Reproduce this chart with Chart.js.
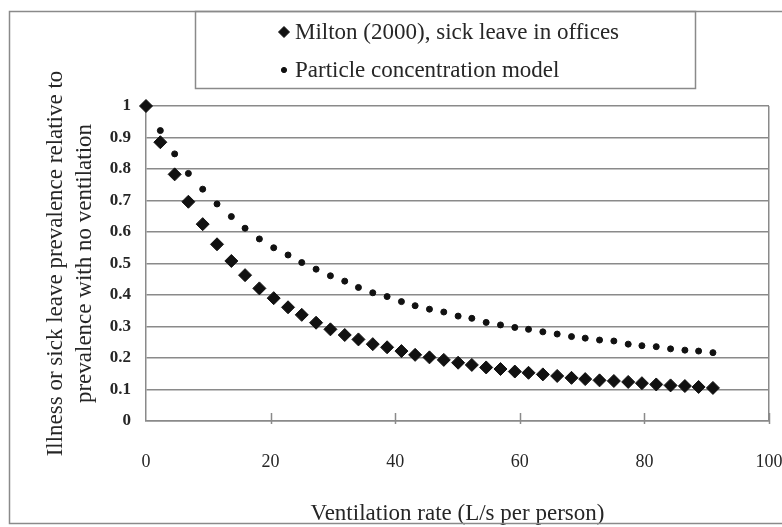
<!DOCTYPE html>
<html>
<head>
<meta charset="utf-8">
<title>Ventilation rate and illness prevalence</title>
<script src="https://cdn.jsdelivr.net/npm/chart.js@4.4.1/dist/chart.umd.min.js"></script>
<style>
  html, body { margin: 0; padding: 0; background: #ffffff; overflow: hidden; }
  #wrap { position: relative; width: 782px; height: 527px; }
</style>
</head>
<body>
<div id="wrap"><canvas id="chart" width="782" height="527"></canvas></div>
<script>
// Ventilation rate (L/s per person) at which both curves are evaluated
const ventilationRate = [0, 2.3, 4.6, 6.8, 9.1, 11.4, 13.7, 15.9, 18.2, 20.5,
  22.8, 25.0, 27.3, 29.6, 31.9, 34.1, 36.4, 38.7, 41.0, 43.2,
  45.5, 47.8, 50.1, 52.3, 54.6, 56.9, 59.2, 61.4, 63.7, 66.0,
  68.3, 70.5, 72.8, 75.1, 77.4, 79.6, 81.9, 84.2, 86.5, 88.7, 91.0];

// Milton (2000), sick leave in offices, relative to no ventilation
const miltonSickLeave = [1.000, 0.885, 0.783, 0.696, 0.625, 0.561, 0.508, 0.463, 0.421, 0.390,
  0.361, 0.337, 0.312, 0.291, 0.273, 0.259, 0.244, 0.234, 0.222, 0.210,
  0.202, 0.194, 0.185, 0.178, 0.170, 0.165, 0.157, 0.153, 0.148, 0.143,
  0.137, 0.133, 0.129, 0.127, 0.124, 0.120, 0.116, 0.113, 0.111, 0.108, 0.105];

// Particle concentration model, relative to no ventilation
const particleModel = [1.000, 0.922, 0.848, 0.786, 0.736, 0.689, 0.649, 0.612, 0.578, 0.550,
  0.527, 0.503, 0.482, 0.461, 0.444, 0.424, 0.407, 0.395, 0.379, 0.366,
  0.355, 0.346, 0.333, 0.326, 0.313, 0.305, 0.297, 0.291, 0.283, 0.276,
  0.268, 0.263, 0.257, 0.254, 0.244, 0.239, 0.236, 0.229, 0.225, 0.222, 0.217];

const seriesNames = ['Milton (2000), sick leave in offices', 'Particle concentration model'];

const xTicks = [0, 20, 40, 60, 80, 100];
const yTicks = [0, 0.1, 0.2, 0.3, 0.4, 0.5, 0.6, 0.7, 0.8, 0.9, 1];
const xTickLabels = ['0', '20', '40', '60', '80', '100'];
const yTickLabels = ['0', '0.1', '0.2', '0.3', '0.4', '0.5', '0.6', '0.7', '0.8', '0.9', '1'];

const xAxisTitle = 'Ventilation rate (L/s per person)';
const yAxisTitle = ['Illness or sick leave prevalence relative to', 'prevalence with no ventilation'];

const SERIF = '"Liberation Serif", "Times New Roman", "DejaVu Serif", serif';
const TEXT = '#262626';
const LINE = '#8a8a8a';

const toPoints = (xs, ys) => xs.map((x, i) => ({ x: x, y: ys[i] }));

// Outer frame of the figure
const frame = {
  id: 'frame',
  afterDraw(chart) {
    const ctx = chart.ctx;
    ctx.save();
    ctx.strokeStyle = LINE;
    ctx.lineWidth = 1.5;
    ctx.strokeRect(9.5, 11.5, 800, 512);
    ctx.restore();
  }
};

// Short tick marks crossing the horizontal axis
const crossTicks = {
  id: 'crossTicks',
  afterDraw(chart) {
    const sx = chart.scales.x;
    const bottom = chart.chartArea.bottom;
    const ctx = chart.ctx;
    ctx.save();
    ctx.strokeStyle = LINE;
    ctx.lineWidth = 1.5;
    xTicks.forEach(v => {
      if (v === 0) return;
      const px = Math.round(sx.getPixelForValue(v)) + 0.5;
      ctx.beginPath();
      ctx.moveTo(px, bottom - 8);
      ctx.lineTo(px, bottom + 3);
      ctx.stroke();
    });
    ctx.restore();
  }
};

// Boxed legend in the top band of the figure
const boxedLegend = {
  id: 'boxedLegend',
  afterDraw(chart) {
    const ctx = chart.ctx;
    ctx.save();
    ctx.strokeStyle = LINE;
    ctx.lineWidth = 1.5;
    ctx.strokeRect(195.5, 11.5, 500, 77);
    chart.data.datasets.forEach((ds, i) => {
      const cy = 32 + i * 38;
      ctx.fillStyle = ds.backgroundColor;
      ctx.strokeStyle = ds.borderColor;
      ctx.lineWidth = ds.pointBorderWidth;
      Chart.helpers.drawPoint(ctx, {
        pointStyle: ds.pointStyle,
        radius: ds.pointStyle === 'rectRot' ? 5.5 : 2.6,
        borderWidth: ds.pointBorderWidth,
        rotation: 0
      }, 284, cy);
      ctx.fillStyle = TEXT;
      ctx.font = '23px ' + SERIF;
      ctx.textAlign = 'left';
      ctx.textBaseline = 'middle';
      ctx.fillText(ds.label, 295, cy + 1);
    });
    ctx.restore();
  }
};

new Chart(document.getElementById('chart'), {
  type: 'scatter',
  data: {
    datasets: [
      {
        label: seriesNames[0],
        data: toPoints(ventilationRate, miltonSickLeave),
        pointStyle: 'rectRot',
        pointRadius: 6.5,
        pointBorderWidth: 1,
        backgroundColor: '#111111',
        borderColor: '#111111',
        showLine: false,
        clip: false
      },
      {
        label: seriesNames[1],
        data: toPoints(ventilationRate, particleModel),
        pointStyle: 'circle',
        pointRadius: 3,
        pointBorderWidth: 1,
        backgroundColor: '#111111',
        borderColor: '#111111',
        showLine: false,
        clip: false
      }
    ]
  },
  options: {
    responsive: false,
    animation: false,
    events: [],
    layout: { padding: { left: 41, top: 106, right: 13, bottom: 0 } },
    plugins: {
      legend: { display: false },
      tooltip: { enabled: false }
    },
    scales: {
      x: {
        type: 'linear',
        min: 0,
        max: 100,
        afterBuildTicks: s => { s.ticks = xTicks.map(v => ({ value: v })); },
        afterFit: s => { s.height = 106; s.paddingLeft = 0; s.paddingRight = 0; },
        grid: {
          drawTicks: false,
          drawOnChartArea: true,
          color: ctx => (ctx.tick && ctx.tick.value === 100) ? LINE : 'rgba(0,0,0,0)',
          lineWidth: 1.5
        },
        border: { display: true, color: LINE, width: 1.5 },
        ticks: {
          padding: 30,
          color: TEXT,
          font: { family: SERIF, size: 18 },
          callback: (v, i) => xTickLabels[i]
        },
        title: {
          display: true,
          text: xAxisTitle,
          color: TEXT,
          font: { family: SERIF, size: 23, lineHeight: 1.1 },
          padding: { top: 0, bottom: 0 }
        }
      },
      y: {
        type: 'linear',
        min: 0,
        max: 1,
        afterBuildTicks: s => { s.ticks = yTicks.map(v => ({ value: v })); },
        afterFit: s => { s.width = 105; },
        grid: {
          drawTicks: false,
          color: LINE,
          lineWidth: 1.5
        },
        border: { display: true, color: LINE, width: 1.5 },
        ticks: {
          padding: 15,
          color: TEXT,
          font: { family: SERIF, size: 17, weight: 'bold' },
          callback: (v, i) => yTickLabels[i]
        },
        title: {
          display: true,
          text: yAxisTitle,
          color: TEXT,
          font: { family: SERIF, size: 23, lineHeight: 1.26 },
          padding: { top: 0, bottom: 0 }
        }
      }
    }
  },
  plugins: [frame, crossTicks, boxedLegend]
});
</script>
</body>
</html>
